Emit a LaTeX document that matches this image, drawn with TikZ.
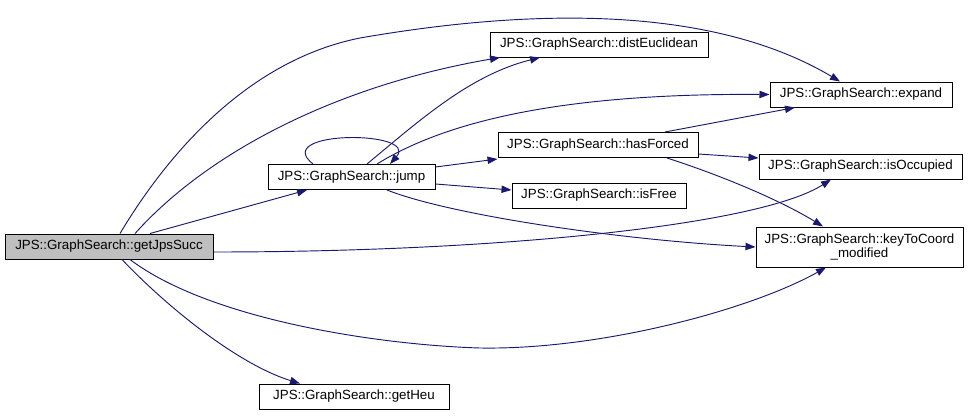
\documentclass[tikz,border=0pt]{standalone}
\usepackage{fontspec}
\setmainfont{Liberation Sans}
\usetikzlibrary{arrows.meta,calc}
\definecolor{cgEdge}{HTML}{191970}
\definecolor{cgRoot}{HTML}{BFBFBF}
\tikzset{
  every node/.style={font=\fontsize{10pt}{11pt}\selectfont, text=black},
  fnBox/.style={rectangle, draw=black, fill=white, line width=0.75pt,
    minimum height=18.75pt, inner sep=0pt, align=center},
  rootBox/.style={fnBox, fill=cgRoot},
  call/.style={-{Triangle[length=7.5pt,width=5.5pt]}, line width=0.7pt,
    color=cgEdge},
}

\begin{document}
\begin{tikzpicture}[x=0.75pt,y=-0.75pt]
  \useasboundingbox (0,0) rectangle (972,418);

  % Functions of the call graph.
  \node[rootBox, minimum width=156pt] (succ) at (109,246.5)
    {JPS::GraphSearch::getJpsSucc};
  \node[fnBox, minimum width=125.25pt] (jump) at (351.5,177)
    {JPS::GraphSearch::jump};
  \node[fnBox, minimum width=163.5pt] (dist) at (599,44.5)
    {JPS::GraphSearch::distEuclidean};
  \node[fnBox, minimum width=136.5pt] (expand) at (861,94.5)
    {JPS::GraphSearch::expand};
  \node[fnBox, minimum width=150pt] (forced) at (598,145)
    {JPS::GraphSearch::hasForced};
  \node[fnBox, minimum width=130.5pt] (free) at (599,195.5)
    {JPS::GraphSearch::isFree};
  \node[fnBox, minimum width=152.25pt] (occ) at (860.5,166.5)
    {JPS::GraphSearch::isOccupied};
  \node[fnBox, minimum width=155.25pt, minimum height=30pt] (coord)
    at (859.5,247) {JPS::GraphSearch::keyToCoord\\\_modified};
  \node[fnBox, minimum width=142.5pt] (heu) at (354,396.5)
    {JPS::GraphSearch::getHeu};

  % Calls made by getJpsSucc.
  \draw[call] ($(succ.north)+(11,0)$)
    .. controls (170,150) and (250,60) .. (360,38)
    .. controls (550,5) and (720,10) .. ($(expand.north)+(-21,0)$);
  \draw[call] ($(succ.north)+(26,0)$)
    .. controls (210,150) and (340,85) .. ($(dist.south)+(-99,0)$);
  \draw[call] ($(succ.north)+(41,0)$) -- ($(jump.south)+(-44.5,0)$);
  \draw[call] ($(succ.east)+(0,5.5)$)
    .. controls (500,252) and (760,225) .. ($(occ.south)+(-29.5,0)$);
  \draw[call] ($(succ.south)+(21,0)$)
    .. controls (210,320) and (380,345) .. (480,348)
    .. controls (600,350) and (750,310) .. ($(coord.south)+(-33.5,0)$);
  \draw[call] ($(succ.south)+(13,0)$)
    .. controls (170,310) and (240,365) .. ($(heu.north)+(-54,0)$);

  % Calls made by jump.
  \draw[call] ($(jump.north)+(-38.5,0)$)
    .. controls (270,130) and (420,130) .. ($(jump.north)+(38.5,0)$);
  \draw[call] ($(jump.north)+(15.5,0)$)
    .. controls (420,120) and (470,75) .. ($(dist.south)+(-59,0)$);
  \draw[call] ($(jump.north)+(25.5,0)$)
    .. controls (440,125) and (550,93) .. (expand.west);
  \draw[call] ($(jump.east)+(0,-10)$) -- ($(forced.south west)+(0,1)$);
  \draw[call] ($(jump.east)+(0,7)$) -- ($(free.west)+(0,-5.5)$);
  \draw[call] ($(jump.south)+(35.5,0)$)
    .. controls (450,215) and (620,240) .. (coord.west);

  % Calls made by hasForced.
  \draw[call] ($(forced.north)+(67,0)$) -- ($(expand.south)+(-66,0)$);
  \draw[call] ($(forced.east)+(0,9)$) -- ($(occ.west)+(0,-8.5)$);
  \draw[call] ($(forced.south)+(69,0)$)
    .. controls (720,175) and (780,200) .. ($(coord.north)+(-36.5,0)$);
\end{tikzpicture}
\end{document}
